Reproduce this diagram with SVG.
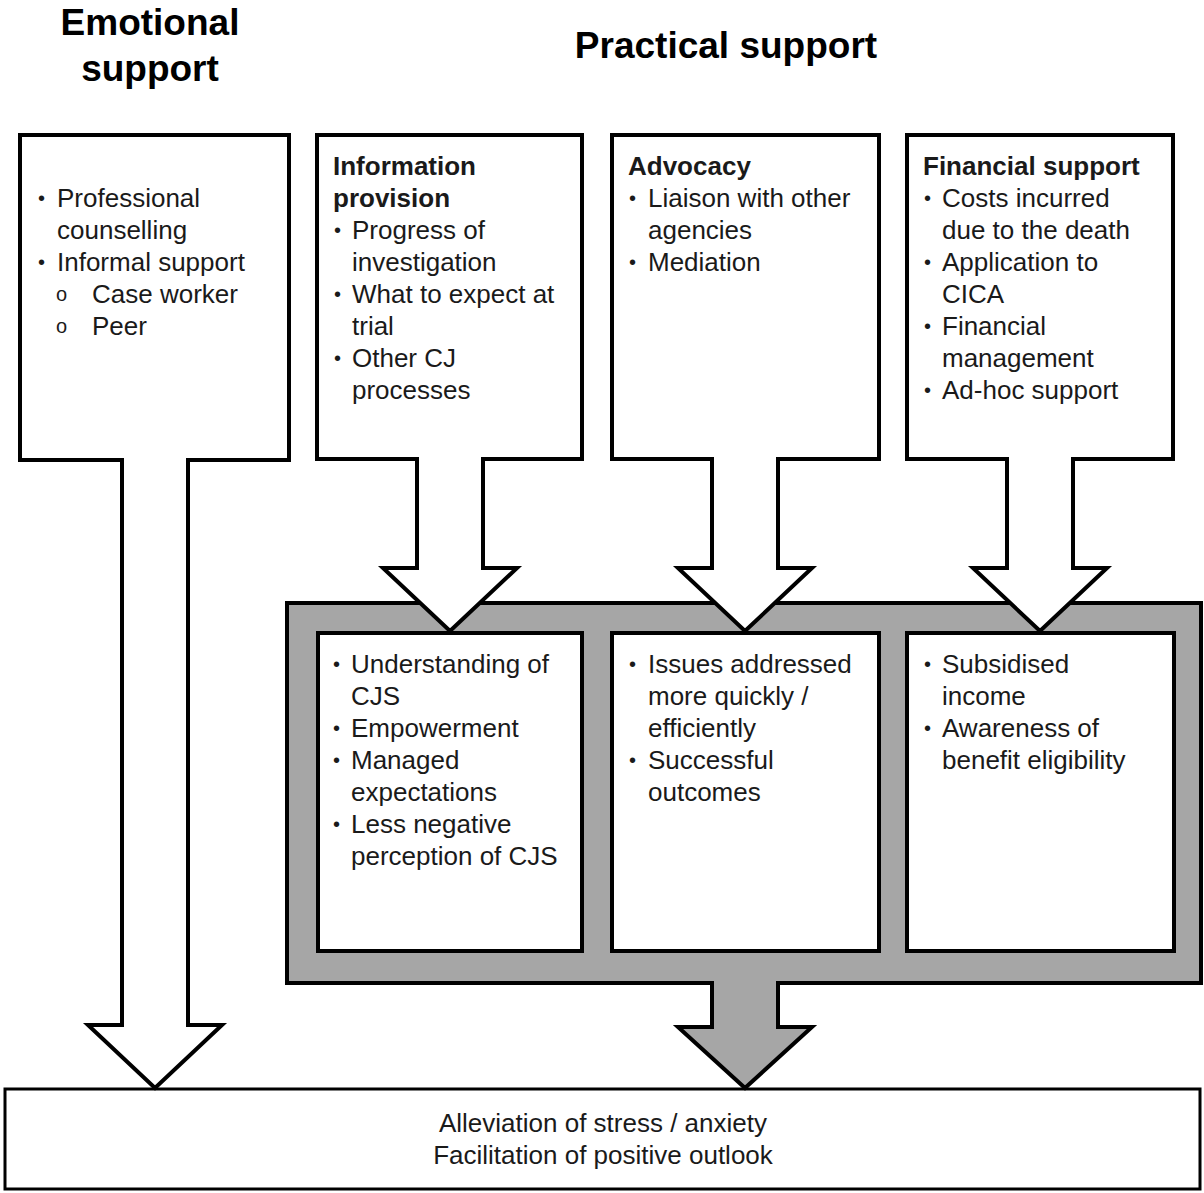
<svg xmlns="http://www.w3.org/2000/svg" width="1204" height="1193" viewBox="0 0 1204 1193">
<style>
.shape{fill:#fff;stroke:#000;stroke-width:4;stroke-linejoin:miter}
.gray{fill:#a6a6a6;stroke:#000;stroke-width:4}
.t{font-family:"Liberation Sans",Arial,sans-serif;font-size:26px;fill:#1a1a1a}
.b{font-weight:bold}
.h{font-family:"Liberation Sans",Arial,sans-serif;font-size:37px;font-weight:bold;fill:#000}
.bul{font-family:"Liberation Sans",Arial,sans-serif;font-size:20px;fill:#1a1a1a}
</style>
<rect width="1204" height="1193" fill="#fff"/>
<g id="headers">
<text class="h" x="150" y="35" text-anchor="middle">Emotional</text>
<text class="h" x="150" y="81" text-anchor="middle">support</text>
<text class="h" x="726" y="58" text-anchor="middle">Practical support</text>
</g>
<g id="outcome">
<rect x="5" y="1089" width="1195" height="100" fill="#fff" stroke="#000" stroke-width="3"/>
<text class="t" x="603" y="1132" text-anchor="middle">Alleviation of stress / anxiety</text>
<text class="t" x="603" y="1164" text-anchor="middle">Facilitation of positive outlook</text>
</g>
<g id="practical-outcomes">
<path class="gray" d="M287,603 H1201 V983 H778 V1027 H812 L745,1088 L678,1027 H712 V983 H287 Z"/>
</g>
<g id="outcome-info">
<rect class="shape" x="318" y="633" width="264" height="318"/>
<text class="bul" x="333" y="671">•</text><text class="t" x="351" y="673">Understanding of</text>
<text class="t" x="351" y="705">CJS</text>
<text class="bul" x="333" y="735">•</text><text class="t" x="351" y="737">Empowerment</text>
<text class="bul" x="333" y="767">•</text><text class="t" x="351" y="769">Managed</text>
<text class="t" x="351" y="801">expectations</text>
<text class="bul" x="333" y="831">•</text><text class="t" x="351" y="833">Less negative</text>
<text class="t" x="351" y="865">perception of CJS</text>
</g>
<g id="outcome-advocacy">
<rect class="shape" x="612" y="633" width="267" height="318"/>
<text class="bul" x="629" y="671">•</text><text class="t" x="648" y="673">Issues addressed</text>
<text class="t" x="648" y="705">more quickly /</text>
<text class="t" x="648" y="737">efficiently</text>
<text class="bul" x="629" y="767">•</text><text class="t" x="648" y="769">Successful</text>
<text class="t" x="648" y="801">outcomes</text>
</g>
<g id="outcome-financial">
<rect class="shape" x="907" y="633" width="267" height="318"/>
<text class="bul" x="924" y="671">•</text><text class="t" x="942" y="673">Subsidised</text>
<text class="t" x="942" y="705">income</text>
<text class="bul" x="924" y="735">•</text><text class="t" x="942" y="737">Awareness of</text>
<text class="t" x="942" y="769">benefit eligibility</text>
</g>
<g id="connectors">
<path class="shape" d="M20,135 H289 V460 H188 V1025 H222 L155,1088 L88,1025 H122 V460 H20 Z"/>
<path class="shape" d="M317,135 H582 V459 H483 V568 H517 L450,631 L383,568 H417 V459 H317 Z"/>
<path class="shape" d="M612,135 H879 V459 H778 V568 H812 L745,631 L678,568 H712 V459 H612 Z"/>
<path class="shape" d="M907,135 H1173 V459 H1073 V568 H1107 L1040,631 L973,568 H1007 V459 H907 Z"/>
</g>
<g id="emotional">
<text class="bul" x="38" y="205">•</text><text class="t" x="57" y="207">Professional</text>
<text class="t" x="57" y="239">counselling</text>
<text class="bul" x="38" y="269">•</text><text class="t" x="57" y="271">Informal support</text>
<text class="t" x="56" y="301" style="font-size:20px">o</text><text class="t" x="92" y="303">Case worker</text>
<text class="t" x="56" y="333" style="font-size:20px">o</text><text class="t" x="92" y="335">Peer</text>
</g>
<g id="information">
<text class="t b" x="333" y="175">Information</text>
<text class="t b" x="333" y="207">provision</text>
<text class="bul" x="334" y="237">•</text><text class="t" x="352" y="239">Progress of</text>
<text class="t" x="352" y="271">investigation</text>
<text class="bul" x="334" y="301">•</text><text class="t" x="352" y="303">What to expect at</text>
<text class="t" x="352" y="335">trial</text>
<text class="bul" x="334" y="365">•</text><text class="t" x="352" y="367">Other CJ</text>
<text class="t" x="352" y="399">processes</text>
</g>
<g id="advocacy">
<text class="t b" x="628" y="175">Advocacy</text>
<text class="bul" x="629" y="205">•</text><text class="t" x="648" y="207">Liaison with other</text>
<text class="t" x="648" y="239">agencies</text>
<text class="bul" x="629" y="269">•</text><text class="t" x="648" y="271">Mediation</text>
</g>
<g id="financial">
<text class="t b" x="923" y="175">Financial support</text>
<text class="bul" x="924" y="205">•</text><text class="t" x="942" y="207">Costs incurred</text>
<text class="t" x="942" y="239">due to the death</text>
<text class="bul" x="924" y="269">•</text><text class="t" x="942" y="271">Application to</text>
<text class="t" x="942" y="303">CICA</text>
<text class="bul" x="924" y="333">•</text><text class="t" x="942" y="335">Financial</text>
<text class="t" x="942" y="367">management</text>
<text class="bul" x="924" y="397">•</text><text class="t" x="942" y="399">Ad-hoc support</text>
</g>
</svg>
